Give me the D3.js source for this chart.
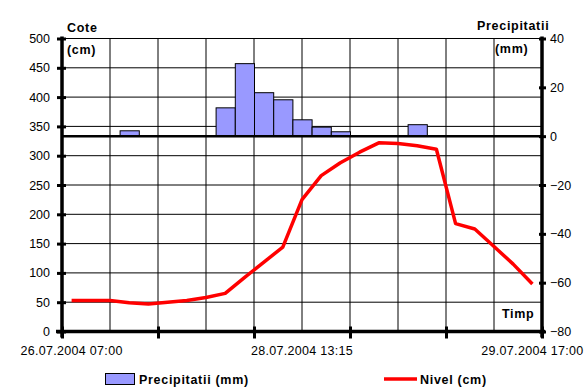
<!DOCTYPE html>
<html><head><meta charset="utf-8">
<script src="https://cdn.jsdelivr.net/npm/d3@7/dist/d3.min.js"></script>
<style>
body{margin:0;background:#fff}
text{font-family:Arial,"Liberation Sans",sans-serif}
</style>
</head><body>
<svg id="c" width="585" height="392"></svg>
<script>
// ---- data ----
const categoryCount = 25;
const nivel = [53,53,53,49,47,50,53,58,65,92,118,144,225,266,288,306,322,321,317,311,184,175,145,115,81];
const precipitatii = [0,0,0,2.2,0,0,0,0,11.6,29.7,17.8,14.9,6.7,3.7,1.8,0,0,0,4.7,0,0,0,0,0,0];
const xTickLabels = ["26.07.2004 07:00","28.07.2004 13:15","29.07.2004 17:00"];
const xTickLabelIndex = [0,12,24];
const leftTicks = [0,50,100,150,200,250,300,350,400,450,500];
const rightTicks = [-80,-60,-40,-20,0,20,40];
const xMajorTicks = [0,5,10,15,20,25];
const xGrid = [2.5,5,7.5,10,12.5,15,17.5,20,22.5];

// ---- layout ----
const L = 62, R = 542, T = 38.5, B = 331.5;
const svg = d3.select("#c");
const x = d3.scaleLinear().domain([0, categoryCount]).range([L, R]);
const yL = d3.scaleLinear().domain([0, 500]).range([B, T]);
const yR = d3.scaleLinear().domain([-80, 40]).range([B, T]);

// gridlines
svg.append("g").selectAll("line").data(leftTicks.filter(d=>d>0)).join("line")
  .attr("x1", L).attr("x2", R).attr("y1", d=>yL(d)).attr("y2", d=>yL(d))
  .attr("stroke", "#000").attr("stroke-width", 1);
svg.append("g").selectAll("line").data(xGrid).join("line")
  .attr("x1", d=>x(d)).attr("x2", d=>x(d)).attr("y1", T).attr("y2", B)
  .attr("stroke", "#000").attr("stroke-width", 1);

// bars
svg.append("g").selectAll("rect")
  .data(precipitatii.map((v,i)=>({v,i})).filter(d=>d.v>0)).join("rect")
  .attr("x", d=>x(d.i)+0.5).attr("width", d=>x(d.i+1)-x(d.i))
  .attr("y", d=>yR(d.v)).attr("height", d=>yR(0)-yR(d.v))
  .attr("fill", "#9999FF").attr("stroke", "#000").attr("stroke-width", 1);

// zero line of secondary axis
svg.append("line").attr("x1", L).attr("x2", R).attr("y1", yR(0)).attr("y2", yR(0))
  .attr("stroke", "#000").attr("stroke-width", 2.5);

// line
const line = d3.line().x((d,i)=>x(i+0.5)).y(d=>yL(d));
svg.append("path").datum(nivel).attr("d", line)
  .attr("fill", "none").attr("stroke", "#FF0000").attr("stroke-width", 3.5)
  .attr("stroke-linejoin", "round");

// left axis
const gL = svg.append("g").attr("transform", `translate(${L},0)`)
  .call(d3.axisLeft(yL).tickValues(leftTicks).tickSize(5).tickPadding(7));
gL.select(".domain").attr("stroke-width", 3.5).attr("d", `M0,${T-2}V${B+6}`);
gL.selectAll(".tick line").attr("x1", 4).attr("stroke-width", 3);
gL.selectAll(".tick text").attr("font-size", "12.5px").attr("fill", "#000");

// right axis
const gR = svg.append("g").attr("transform", `translate(${R},0)`)
  .call(d3.axisRight(yR).tickValues(rightTicks).tickSize(4).tickPadding(4));
gR.select(".domain").attr("stroke-width", 3.5).attr("d", `M0,${T-2}V${B+6}`);
gR.selectAll(".tick line").attr("x1", -3).attr("stroke-width", 3);
gR.selectAll(".tick text").attr("font-size", "12.5px").attr("fill", "#000");

// bottom axis
const gB = svg.append("g").attr("transform", `translate(0,${B})`)
  .call(d3.axisBottom(x).tickValues(xMajorTicks).tickSize(7).tickFormat(""));
gB.select(".domain").attr("stroke-width", 3.5).attr("d", `M${L-6},0H${R+3}`);
gB.selectAll(".tick line").attr("y1", -5).attr("stroke-width", 3);
svg.append("g").selectAll("text").data(xTickLabelIndex).join("text")
  .attr("x", d=>x(d+0.5)).attr("y", 355).attr("text-anchor", "middle")
  .attr("font-size", "12.5px").attr("letter-spacing", "0.3px")
  .text((d,i)=>xTickLabels[i]);

// axis titles
const bold = (t, xx, yy) => svg.append("text").attr("x", xx).attr("y", yy)
  .attr("font-size", "12.5px").attr("font-weight", "bold").attr("letter-spacing", "0.7px").text(t);
bold("Cote", 67, 32);
bold("(cm)", 67, 54);
bold("Precipitatii", 477, 30);
bold("(mm)", 495, 53);
bold("Timp", 502, 318);

// legend
svg.append("rect").attr("x", 105.5).attr("y", 373.5).attr("width", 29).attr("height", 11)
  .attr("fill", "#9999FF").attr("stroke", "#000");
bold("Precipitatii (mm)", 139, 384);
svg.append("line").attr("x1", 384).attr("x2", 417).attr("y1", 379).attr("y2", 379)
  .attr("stroke", "#FF0000").attr("stroke-width", 3.5);
bold("Nivel (cm)", 420, 384);
</script>
</body></html>
